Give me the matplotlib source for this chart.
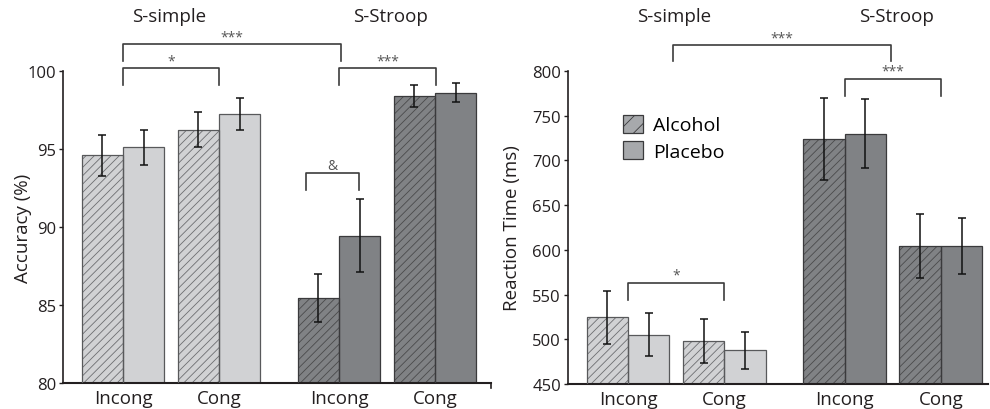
import matplotlib
matplotlib.use("Agg")
import matplotlib.pyplot as plt
from matplotlib.patches import Patch
import numpy as np

plt.rcParams['font.family'] = ['Open Sans', 'DejaVu Sans']
plt.rcParams['hatch.linewidth'] = 0.6

# ---- data ----
conditions = ["Incong", "Cong", "Incong", "Cong"]
tasks = ["S-simple", "S-Stroop"]

acc_alcohol = [94.6, 96.25, 85.45, 98.4]
acc_alcohol_err = [1.3, 1.1, 1.55, 0.7]
acc_placebo = [95.1, 97.25, 89.45, 98.6]
acc_placebo_err = [1.1, 1.05, 2.35, 0.6]

rt_alcohol = [524.5, 498.0, 724.0, 604.0]
rt_alcohol_err = [30, 25, 46, 36]
rt_placebo = [505.0, 487.5, 730.0, 604.5]
rt_placebo_err = [24, 21, 39, 31]

# ---- styling ----
light = "#d1d2d4"
dark = "#808285"
light_edge = "#58595b"
dark_edge = "#3a3a3c"
light_hatch = "#6d6e71"
dark_hatch = "#4a4a4c"
bracket_col = "#3c3c3c"
star_col = "#555555"
text_col = "#231f20"

xpos = np.array([0.0, 1.0, 2.25, 3.25])
width = 0.43

fig = plt.figure(figsize=(9.9, 4.1), dpi=100)
ax1 = fig.add_axes([63 / 990, 1 - 384 / 410, (491 - 63) / 990, (384 - 72) / 410])
ax2 = fig.add_axes([568 / 990, 1 - 385 / 410, (988 - 568) / 990, (385 - 72) / 410])


def draw_bars(ax, alc, alc_err, pla, pla_err):
    for i in range(4):
        fc = light if i < 2 else dark
        ec = light_edge if i < 2 else dark_edge
        hc = light_hatch if i < 2 else dark_hatch
        xa = xpos[i] - width / 2
        xp = xpos[i] + width / 2
        ax.bar(xa, alc[i], width, color=fc, edgecolor="none", zorder=2)
        ax.bar(xa, alc[i], width, color="none", edgecolor=hc, hatch="////",
               linewidth=0, zorder=2.5)
        ax.bar(xa, alc[i], width, color="none", edgecolor=ec, linewidth=0.9, zorder=3)
        ax.bar(xp, pla[i], width, color=fc, edgecolor=ec, linewidth=0.9, zorder=2)
        ax.errorbar(xa, alc[i], yerr=alc_err[i], fmt="none", ecolor="#111111",
                    elinewidth=1.1, capsize=3, capthick=1.1, zorder=4)
        ax.errorbar(xp, pla[i], yerr=pla_err[i], fmt="none", ecolor="#111111",
                    elinewidth=1.1, capsize=3, capthick=1.1, zorder=4)


def bracket(ax, x0, x1, y, leg, text, fs=10):
    ax.plot([x0, x0, x1, x1], [y - leg, y, y, y - leg], color=bracket_col,
            lw=1.2, clip_on=False, zorder=5)
    ax.text((x0 + x1) / 2, y, text, ha="center", va="bottom", fontsize=fs,
            color=star_col, clip_on=False)


def style_axis(ax, ylim, yticks, ylabel, xlim, label_x):
    ax.set_xlim(*xlim)
    ax.set_ylim(*ylim)
    ax.set_yticks(yticks)
    ax.set_xticks(xpos)
    ax.set_xticklabels(conditions)
    ax.spines["top"].set_visible(False)
    ax.spines["right"].set_visible(False)
    ax.spines["left"].set_linewidth(1.2)
    ax.spines["bottom"].set_linewidth(1.5)
    ax.spines["left"].set_color(text_col)
    ax.spines["bottom"].set_color(text_col)
    ax.tick_params(axis="y", direction="out", length=3, width=1, pad=2,
                   labelsize=12, colors=text_col)
    ax.tick_params(axis="x", length=0, pad=4, labelsize=13.5, colors=text_col)
    ax.set_ylabel(ylabel, fontsize=13.5, color=text_col)
    ax.yaxis.set_label_coords(label_x, 0.5)
    for t, xc in zip(tasks, [0.48, 2.79]):
        ax.text(xc, 1.176, t, transform=ax.get_xaxis_transform(), ha="center",
                va="center", fontsize=13.5, color=text_col, clip_on=False)


# ---- accuracy panel ----
draw_bars(ax1, acc_alcohol, acc_alcohol_err, acc_placebo, acc_placebo_err)
style_axis(ax1, (80, 100), [80, 85, 90, 95, 100], "Accuracy (%)",
           (-0.625, 3.833), -0.072)
ax1.plot([3.833, 3.833], [80, 79.65], color=text_col, lw=1.2, clip_on=False)
bracket(ax1, 0.0, 2.27, 101.71, 1.1, "***")
bracket(ax1, 0.0, 1.0, 100.19, 1.07, "*")
bracket(ax1, 2.25, 3.26, 100.19, 1.07, "***")
bracket(ax1, 1.91, 2.46, 93.44, 1.07, "&")

# ---- reaction time panel ----
draw_bars(ax2, rt_alcohol, rt_alcohol_err, rt_placebo, rt_placebo_err)
style_axis(ax2, (450, 800), [450, 500, 550, 600, 650, 700, 750, 800],
           "Reaction Time (ms)", (-0.623, 3.74), -0.112)
bracket(ax2, 0.47, 2.73, 828.7, 17.5, "***")
bracket(ax2, 2.25, 3.25, 791.4, 19.8, "***")
bracket(ax2, 0.0, 1.0, 563.0, 19.3, "*")

handles = [Patch(facecolor="#a7a9ac", edgecolor="#3a3a3c", hatch="//", linewidth=0.9),
           Patch(facecolor="#a7a9ac", edgecolor="#3a3a3c", linewidth=0.9)]
ax2.legend(handles, ["Alcohol", "Placebo"], loc="upper left",
           bbox_to_anchor=(0.13, 0.86), frameon=False, fontsize=14,
           handlelength=1.05, handleheight=1.05, handletextpad=0.5,
           labelspacing=0.35, borderpad=0, borderaxespad=0)

fig.savefig("out.png", dpi=100)
